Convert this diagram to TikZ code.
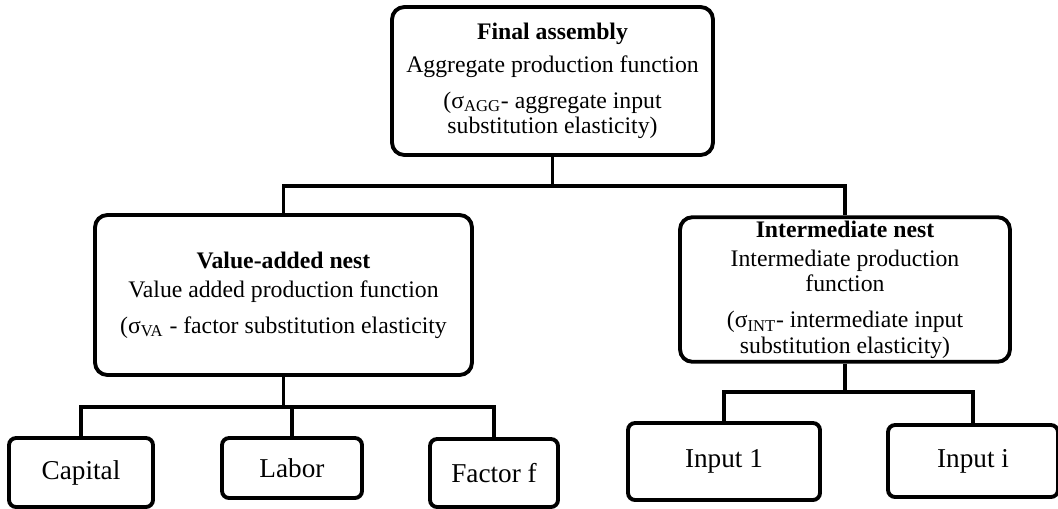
\documentclass[tikz,border=0pt]{standalone}
\usepackage{fontspec}
\setmainfont{Liberation Serif}
\usetikzlibrary{positioning}

\begin{document}
\begin{tikzpicture}[
    x=0.02cm, y=-0.02cm,
    every node/.style={align=center},
    nestbox/.style={
        draw=black, line width=2.2pt, fill=white,
        rounded corners=7pt, inner sep=2pt,
        font=\fontsize{13.5}{14.5}\selectfont
    },
    leafbox/.style={
        draw=black, line width=2.2pt, fill=white,
        rounded corners=4pt, inner sep=2pt,
        font=\fontsize{15.5}{17}\selectfont
    },
    link/.style={line width=1.8pt, draw=black}
]
\useasboundingbox (0,0) rectangle (1058,508);

% upper nests
\node[nestbox, minimum width=6.42cm, minimum height=2.96cm] (final) at (552.5,81)
     {\textbf{Final assembly}\\[4pt]Aggregate production function\\[6pt](σ\textsubscript{AGG}- aggregate input\\substitution elasticity)};
\node[nestbox, minimum width=7.54cm, minimum height=3.2cm] (va) at (283.5,295)
     {\textbf{Value-added nest}\\[2pt]Value added production function\\[6pt](σ\textsubscript{VA} - factor substitution elasticity};
\node[nestbox, minimum width=6.6cm, minimum height=2.86cm] (int) at (845,289.5)
     {\textbf{Intermediate nest}\\[2pt]Intermediate production\\function\\[6pt](σ\textsubscript{INT}- intermediate input\\substitution elasticity)};

% leaves
\node[leafbox, minimum width=2.88cm, minimum height=1.38cm] (capital) at (81,472.5) {Capital};
\node[leafbox, minimum width=2.8cm, minimum height=1.2cm] (labor) at (292,468) {Labor};
\node[leafbox, minimum width=2.56cm, minimum height=1.36cm] (factor) at (494,473) {Factor f};
\node[leafbox, minimum width=3.84cm, minimum height=1.54cm] (input1) at (724,461.5) {Input 1};
\node[leafbox, minimum width=3.4cm, minimum height=1.44cm] (inputi) at (973,461) {Input i};

% tree connectors
\coordinate (topbar) at (552.5,186);
\coordinate (vabar) at (283.5,407);
\coordinate (intbar) at (845,392);

\draw[link] (final.south) -- (topbar) -| (va.north);
\draw[link] (topbar) -| (int.north);

\draw[link] (va.south) -- (vabar) -| (capital.north);
\draw[link] (vabar) -| (labor.north);
\draw[link] (vabar) -| (factor.north);

\draw[link] (int.south) -- (intbar) -| (input1.north);
\draw[link] (intbar) -| (inputi.north);

\end{tikzpicture}
\end{document}
